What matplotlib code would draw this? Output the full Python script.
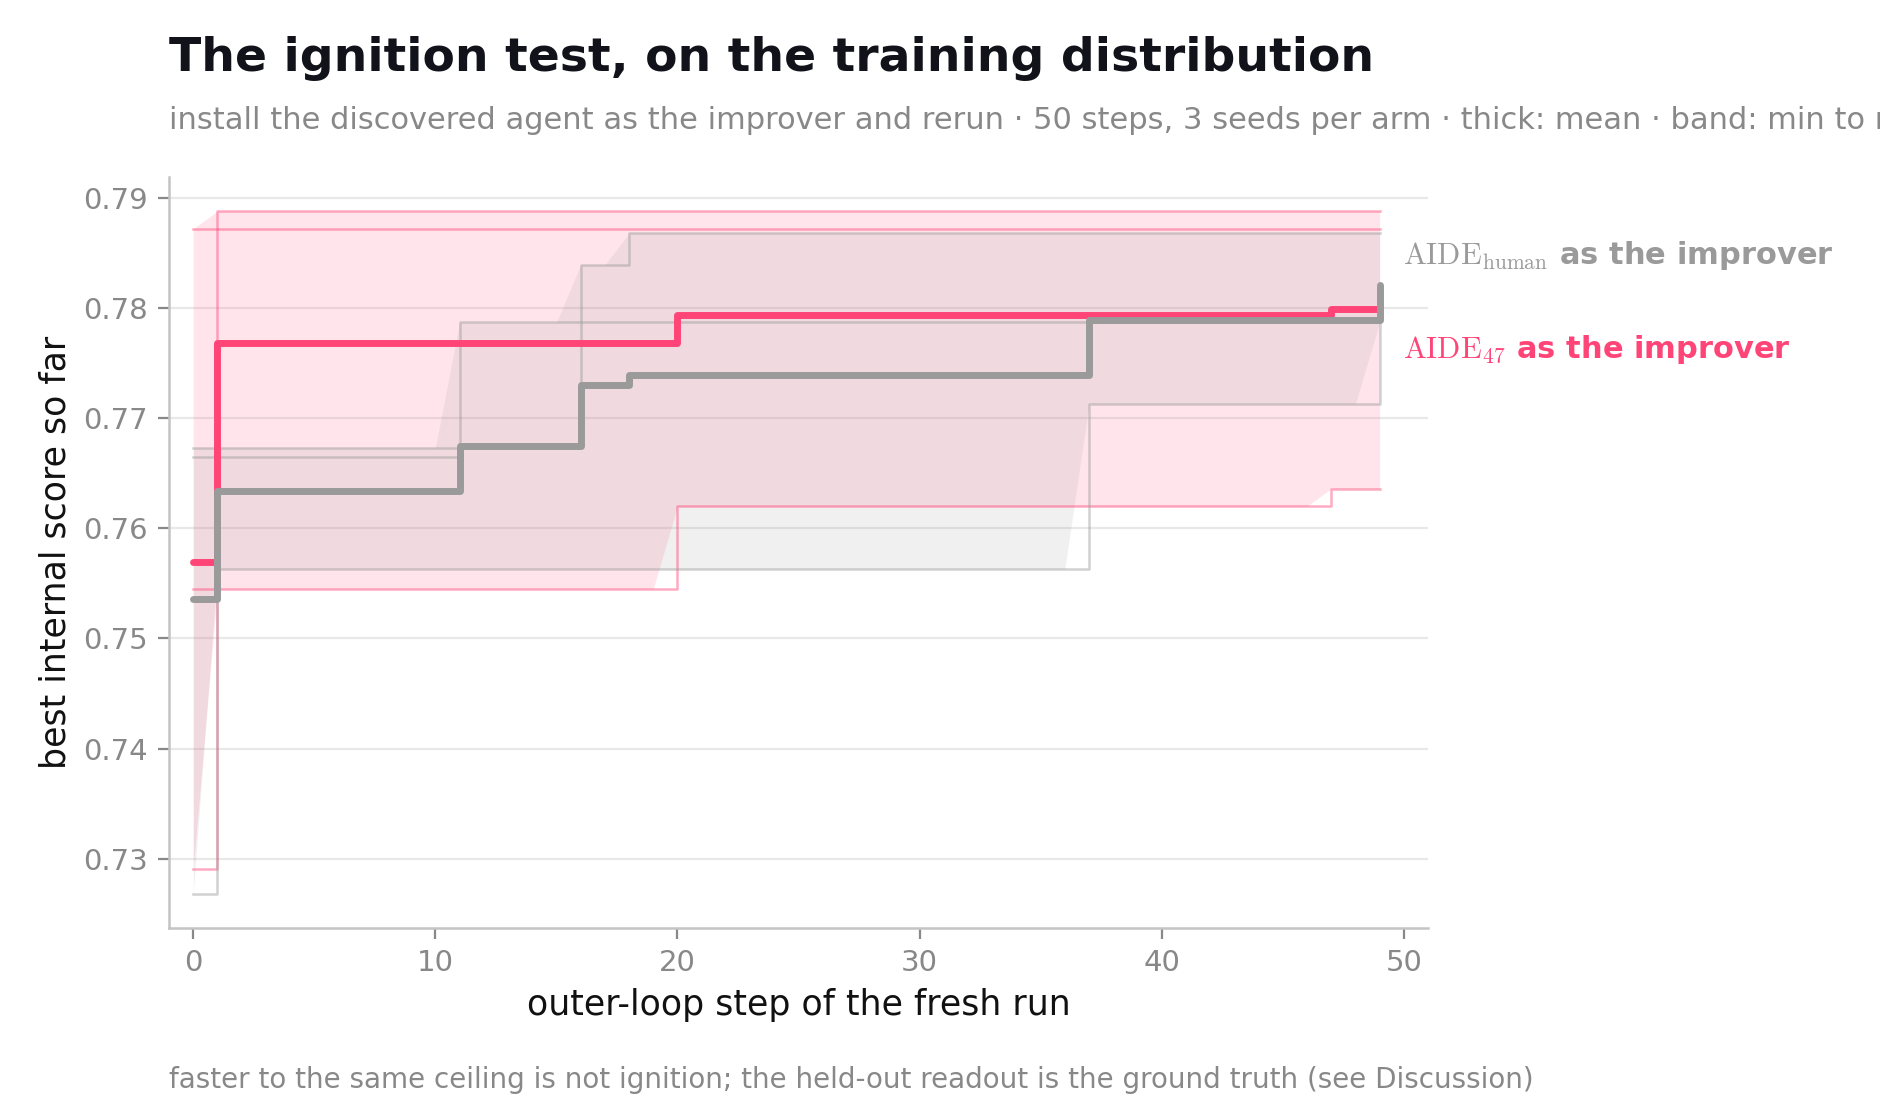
import numpy as np
import matplotlib
matplotlib.use("Agg")
import matplotlib.pyplot as plt

plt.rcParams['font.family'] = ['DejaVu Sans']
plt.rcParams['mathtext.fontset'] = 'cm'

PINK = '#ff4577'
GREY = '#9a9a9a'

n_steps = 50

# best-so-far per seed, written as (step where it improved, new best)
aide47_seeds = [
    ([0, 1], [0.7291, 0.7888]),
    ([0], [0.7872]),
    ([0, 20, 47], [0.7545, 0.7620, 0.7636]),
]
human_seeds = [
    ([0, 1, 37, 49], [0.7268, 0.7563, 0.7713, 0.7808]),
    ([0, 11], [0.7665, 0.7787]),
    ([0, 16, 18], [0.7673, 0.7839, 0.7868]),
]

arm_names = [r'$\mathrm{AIDE}_{47}$ as the improver',
             r'$\mathrm{AIDE}_{\mathrm{human}}$ as the improver']
label_y = [0.7762, 0.7848]

title = 'The ignition test, on the training distribution'
subtitle = ('install the discovered agent as the improver and rerun \u00b7 50 steps, '
            '3 seeds per arm \u00b7 thick: mean \u00b7 band: min to max across seeds')
footer = ('faster to the same ceiling is not ignition; the held-out readout is '
          'the ground truth (see Discussion)')


def expand(changes):
    at, vals = changes
    out = np.empty(n_steps)
    for i, s in enumerate(at):
        out[s:] = vals[i]
    return out


steps = np.arange(n_steps)

fig = plt.figure(figsize=(9.4, 5.6), dpi=200)
ax = fig.add_axes([0.0899, 0.1714, 0.6697, 0.6706])

for seeds, col in [(aide47_seeds, PINK), (human_seeds, GREY)]:
    runs = np.array([expand(s) for s in seeds])
    ax.fill_between(steps, runs.min(axis=0), runs.max(axis=0),
                    color=col, alpha=0.14, lw=0)
    for r in runs:
        ax.step(steps, r, where='post', color=col, alpha=0.45, lw=0.9)

for seeds, col in [(aide47_seeds, PINK), (human_seeds, GREY)]:
    runs = np.array([expand(s) for s in seeds])
    ax.step(steps, runs.mean(axis=0), where='post', color=col, lw=2.5,
            solid_capstyle='round', solid_joinstyle='round')

for name, y, col in zip(arm_names, label_y, [PINK, GREY]):
    ax.text(49.95, y, name, color=col, fontsize=11, fontweight='bold',
            va='center', ha='left', clip_on=False)

ax.set_xlim(-1, 51)
ax.set_xticks([0, 10, 20, 30, 40, 50])
ax.set_yticks([0.73, 0.74, 0.75, 0.76, 0.77, 0.78, 0.79])
ax.yaxis.grid(True, color='#e8e8e8', lw=0.8)
ax.set_axisbelow(True)
for side in ['top', 'right']:
    ax.spines[side].set_visible(False)
for side in ['left', 'bottom']:
    ax.spines[side].set_color('#c4c4c4')
    ax.spines[side].set_linewidth(0.9)
ax.tick_params(colors='#888888', labelsize=10.5, length=4, width=0.8)
ax.set_xlabel('outer-loop step of the fresh run', fontsize=12.5, color='#111111')
ax.set_ylabel('best internal score so far', fontsize=12.5, color='#111111')

fig.text(0.0899, 0.948, title, fontsize=17, fontweight='bold', color='#11121a',
         va='center', ha='left')
fig.text(0.0899, 0.892, subtitle, fontsize=11, color='#888888',
         va='center', ha='left')
fig.text(0.0899, 0.036, footer, fontsize=10, color='#888888',
         va='center', ha='left')

fig.savefig('out.png', dpi=200)
